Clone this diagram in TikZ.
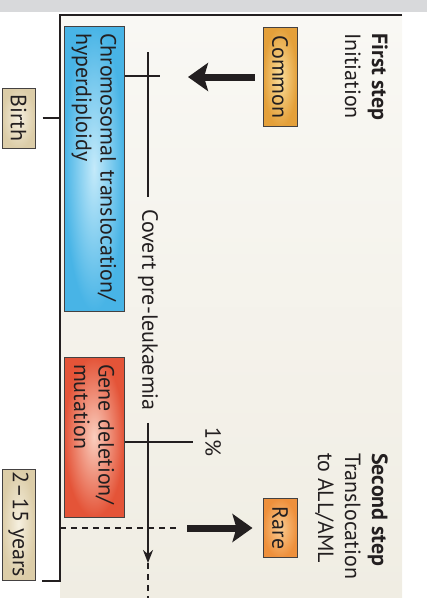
\documentclass[tikz,border=0pt]{standalone}
\usepackage{fontspec}
\setmainfont{PT Sans}
\usetikzlibrary{arrows.meta, positioning}

\definecolor{bandgray}{RGB}{216,217,219}
\definecolor{panelcream}{RGB}{240,237,227}
\definecolor{panelwhite}{RGB}{249,248,244}
\definecolor{inkgray}{RGB}{35,31,32}
\definecolor{tagbeige}{RGB}{220,205,168}
\definecolor{tagbeigelt}{RGB}{246,240,224}
\definecolor{chromblue}{RGB}{72,180,230}
\definecolor{chrombluelt}{RGB}{196,234,250}
\definecolor{genered}{RGB}{228,84,56}
\definecolor{generedlt}{RGB}{250,206,190}
\definecolor{commonorange}{RGB}{228,160,58}
\definecolor{commonorangelt}{RGB}{250,222,156}
\definecolor{rareorange}{RGB}{238,144,60}
\definecolor{rareorangelt}{RGB}{250,204,146}

\begin{document}
\begin{tikzpicture}[
    x=1pt, y=1pt,
    every node/.style={font=\fontsize{22}{24.5}\selectfont, text=inkgray},
    tagbox/.style={draw=inkgray!85, line width=1pt, minimum height=33pt, inner sep=0pt},
    eventbox/.style={draw=inkgray!85, line width=1pt, minimum height=60pt, align=left, inner xsep=7pt, inner ysep=0pt},
    choicebox/.style={draw=inkgray!85, line width=1pt, minimum height=34pt, inner sep=0pt},
    steplabel/.style={anchor=north west, align=left, inner sep=0pt, font=\fontsize{22}{27}\selectfont},
    frameline/.style={draw=inkgray, line width=1.2pt},
    timeline/.style={draw=inkgray, line width=2.8pt},
    guide/.style={draw=inkgray, line width=1.2pt, dash pattern=on 6pt off 5pt},
    bigarrow/.style={draw=inkgray, line width=7pt, -{Stealth[length=20pt, width=28pt, inset=4pt]}}
]
\begin{scope}[rotate=-90, transform shape]
\useasboundingbox (0,0) rectangle (598,427);

% Background
\fill[bandgray] (0,0) rectangle (12,427);
\shade[bottom color=panelcream, top color=panelwhite] (15,60) rectangle (598,402);
\draw[frameline] (15,402) -- (15,60) -- (581,60) -- (581,42);

% Nodes
\node (birth) [tagbox, minimum width=60pt, inner color=tagbeigelt, outer color=tagbeige] at (118,18.5) {Birth};
\node (years) [tagbox, minimum width=111pt, inner color=tagbeigelt, outer color=tagbeige] at (524.5,18.5) {2--15 years};

\node (chrom) [eventbox, text width=271pt, inner color=chrombluelt, outer color=chromblue] at (168.5,94) {\mbox{Chromosomal translocation/}\\hyperdiploidy};
\node (gene) [eventbox, text width=146pt, inner color=generedlt, outer color=genered] at (437,94) {\mbox{Gene deletion/}\\mutation};

\node (common) [choicebox, minimum width=99pt, inner color=commonorangelt, outer color=commonorange] at (77,280) {Common};
\node (rare) [choicebox, minimum width=59pt, inner color=rareorangelt, outer color=rareorange] at (528,280) {Rare};

\node (firststep) [steplabel] at (33,388) {\textbf{First step}\\Initiation};
\node (secondstep) [steplabel] at (453,388) {\textbf{Second step}\\Translocation\\to ALL/AML};

\node (covert) [inner xsep=12pt, inner ysep=0pt] at (310,148) {Covert pre-leukaemia};

\coordinate (birthmark) at (118,60);
\coordinate (tlstart) at (52,148);
\coordinate (tlend) at (563,148);
\coordinate (tlout) at (598,148);
\coordinate (tickA0) at (76,125);
\coordinate (tickA1) at (76,160);
\coordinate (tickB0) at (442,125);
\coordinate (tickB1) at (442,193);
\coordinate (guide0) at (528,60);
\coordinate (guide1) at (528,180);
\coordinate (raretail) at (528,187);
\coordinate (commontip) at (77,188);

\node (pct) [above=12pt of tickB1, inner sep=0pt] {1\%};

% Arrows
\draw[frameline, shorten <=7pt] (birth) -- (birthmark);
\draw[timeline] (tlstart) -- (covert);
\draw[timeline, -{Stealth[length=13pt, width=10pt]}] (covert) -- (tlend);
\draw[guide, line width=1.6pt] (tlend) -- (tlout);
\draw[timeline] (tickA0) -- (tickA1);
\draw[timeline] (tickB0) -- (tickB1);
\draw[guide] (guide0) -- (guide1);
\draw[bigarrow, shorten <=8pt] (common) -- (commontip);
\draw[bigarrow, shorten >=10pt] (raretail) -- (rare);
\end{scope}
\end{tikzpicture}
\end{document}
